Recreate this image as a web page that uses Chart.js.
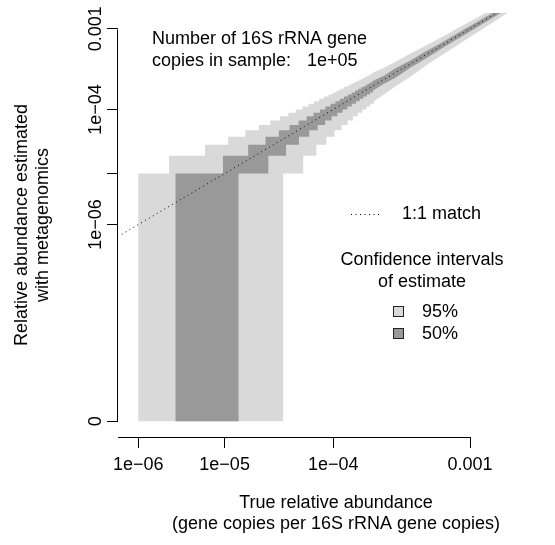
<!DOCTYPE html>
<html>
<head>
<meta charset="utf-8">
<script src="https://cdn.jsdelivr.net/npm/chart.js@4.4.0/dist/chart.umd.min.js"></script>
<style>
  html, body { margin: 0; padding: 0; background: #fff; }
  #wrap { width: 555px; height: 545px; }
</style>
</head>
<body>
<div id="wrap"><canvas id="chart" width="555" height="545"></canvas></div>
<script>
// tick marks and labels (true / estimated relative abundance)
const xTickValues = [1e-6, 1e-5, 1e-4, 1e-3];
const xTickLabels = ['1e\u221206', '1e\u221205', '1e\u221204', '0.001'];
const yTickValues = [0, 1e-6, 1e-5, 1e-4, 1e-3];
const yTickLabels = ['0', '1e\u221206', '', '1e\u221204', '0.001'];

// 1:1 match line
const matchLine = [6e-7, 1e-2];

// confidence band edges, step part: true abundance where the estimate steps, and the estimate from there on
const upper95X = [1e-6, 2.42e-6, 6.19e-6, 1.09e-5, 1.62e-5, 2.2e-5, 2.81e-5, 3.45e-5, 4.12e-5, 4.8e-5,
  5.49e-5, 6.2e-5, 6.92e-5, 7.65e-5, 8.4e-5, 9.15e-5, 9.9e-5, 1.067e-4, 1.144e-4, 1.222e-4,
  1.3e-4, 1.379e-4, 1.458e-4, 1.538e-4, 1.618e-4, 1.698e-4, 1.779e-4, 1.861e-4, 1.942e-4, 2.024e-4];
const upper95Y = [1e-5, 2e-5, 3e-5, 4e-5, 5e-5, 6e-5, 7e-5, 8e-5, 9e-5, 1e-4,
  1.1e-4, 1.2e-4, 1.3e-4, 1.4e-4, 1.5e-4, 1.6e-4, 1.7e-4, 1.8e-4, 1.9e-4, 2e-4,
  2.1e-4, 2.2e-4, 2.3e-4, 2.4e-4, 2.5e-4, 2.6e-4, 2.7e-4, 2.8e-4, 2.9e-4, 3e-4];
const lower95X = [1e-6, 3.69e-5, 5.57e-5, 7.22e-5, 8.77e-5, 1.024e-4, 1.167e-4, 1.306e-4, 1.442e-4,
  1.576e-4, 1.709e-4, 1.839e-4, 1.968e-4, 2.096e-4];
const lower95Y = [0, 1e-5, 2e-5, 3e-5, 4e-5, 5e-5, 6e-5, 7e-5, 8e-5,
  9e-5, 1e-4, 1.1e-4, 1.2e-4, 1.3e-4];
const upper50X = [1e-6, 2.88e-6, 9.61e-6, 1.727e-5, 2.535e-5, 3.37e-5, 4.22e-5, 5.08e-5, 5.96e-5, 6.84e-5,
  7.73e-5, 8.62e-5, 9.52e-5, 1.042e-4, 1.133e-4, 1.224e-4, 1.315e-4, 1.407e-4, 1.499e-4, 1.591e-4,
  1.683e-4, 1.776e-4, 1.868e-4, 1.961e-4, 2.054e-4];
const upper50Y = [0, 1e-5, 2e-5, 3e-5, 4e-5, 5e-5, 6e-5, 7e-5, 8e-5, 9e-5,
  1e-4, 1.1e-4, 1.2e-4, 1.3e-4, 1.4e-4, 1.5e-4, 1.6e-4, 1.7e-4, 1.8e-4, 1.9e-4,
  2e-4, 2.1e-4, 2.2e-4, 2.3e-4, 2.4e-4];
const lower50X = [1e-6, 1.386e-5, 2.693e-5, 3.92e-5, 5.11e-5, 6.27e-5, 7.42e-5, 8.56e-5, 9.68e-5, 1.08e-4,
  1.191e-4, 1.302e-4, 1.412e-4, 1.522e-4, 1.631e-4, 1.74e-4, 1.849e-4, 1.957e-4, 2.065e-4];
const lower50Y = [0, 1e-5, 2e-5, 3e-5, 4e-5, 5e-5, 6e-5, 7e-5, 8e-5, 9e-5,
  1e-4, 1.1e-4, 1.2e-4, 1.3e-4, 1.4e-4, 1.5e-4, 1.6e-4, 1.7e-4, 1.8e-4];

// band edges at higher abundance, where the steps get too small to see
const tailX = [2.5e-4, 3e-4, 4e-4, 5e-4, 6.5e-4, 8e-4, 1e-3, 1.3e-3, 1.7e-3, 2.2e-3, 3e-3];
const upper95Tail = [3.5e-4, 4.1e-4, 5.3e-4, 6.4e-4, 8.1e-4, 9.8e-4, 1.2e-3, 1.53e-3, 1.96e-3, 2.5e-3, 3.35e-3];
const lower95Tail = [1.6e-4, 2e-4, 2.8e-4, 3.7e-4, 5e-4, 6.3e-4, 8.1e-4, 1.08e-3, 1.45e-3, 1.91e-3, 2.67e-3];
const upper50Tail = [2.8e-4, 3.4e-4, 4.4e-4, 5.5e-4, 7e-4, 8.6e-4, 1.07e-3, 1.38e-3, 1.79e-3, 2.3e-3, 3.12e-3];
const lower50Tail = [2.2e-4, 2.6e-4, 3.6e-4, 4.5e-4, 6e-4, 7.4e-4, 9.3e-4, 1.22e-3, 1.61e-3, 2.1e-3, 2.88e-3];

// both axes use a x^0.1 scale
const tr = v => Math.pow(v, 0.1);

const FONT = "'Liberation Sans', Arial, Helvetica, sans-serif";
Chart.defaults.font.family = FONT;
Chart.defaults.color = '#000';

function edge(xs, ys, tx, ty) {
    const pts = [{ x: tr(xs[0]), y: tr(ys[0]) }];
    for (let i = 1; i < xs.length; i++) {
        pts.push({ x: tr(xs[i]), y: tr(ys[i - 1]) }, { x: tr(xs[i]), y: tr(ys[i]) });
    }
    tx.forEach((x, i) => pts.push({ x: tr(x), y: tr(ty[i]) }));
    return pts;
}

function band(upper, lower) {
    return upper.concat(lower.slice().reverse());
}

const band95 = band(edge(upper95X, upper95Y, tailX, upper95Tail), edge(lower95X, lower95Y, tailX, lower95Tail));
const band50 = band(edge(upper50X, upper50Y, tailX, upper50Tail), edge(lower50X, lower50Y, tailX, lower50Tail));

// base R style: axis lines only span the ticks, plus the text annotations and legend
const overlay = {
    id: 'overlay',
    afterDraw(chart) {
        const { ctx, scales: { x, y }, chartArea } = chart;
        ctx.save();
        ctx.strokeStyle = '#000';
        ctx.lineWidth = 1;
        ctx.beginPath();
        const yTop = Math.round(y.getPixelForValue(tr(yTickValues[yTickValues.length - 1]))) + 0.5;
        const yBot = Math.round(y.getPixelForValue(tr(yTickValues[0]))) + 0.5;
        ctx.moveTo(chartArea.left - 0.5, yTop);
        ctx.lineTo(chartArea.left - 0.5, yBot);
        const xEnd = Math.round(x.getPixelForValue(tr(xTickValues[xTickValues.length - 1]))) + 0.5;
        ctx.moveTo(chartArea.left, chartArea.bottom + 0.5);
        ctx.lineTo(xEnd, chartArea.bottom + 0.5);
        ctx.stroke();

        ctx.font = '18px ' + FONT;
        ctx.fillStyle = '#000';
        ctx.textBaseline = 'middle';
        ctx.textAlign = 'left';
        ctx.fillText('Number of 16S rRNA gene', 152, 39);
        ctx.fillText('copies in sample:', 152, 61);
        ctx.fillText('1e+05', 307, 61);

        // legend
        ctx.setLineDash([1, 3.5]);
        ctx.beginPath();
        ctx.moveTo(351, 214.5);
        ctx.lineTo(380, 214.5);
        ctx.stroke();
        ctx.setLineDash([]);
        ctx.fillText('1:1 match', 402, 214);
        ctx.textAlign = 'center';
        ctx.fillText('Confidence intervals', 422, 260);
        ctx.fillText('of estimate', 422, 282);
        ctx.textAlign = 'left';
        ctx.strokeStyle = '#222';
        ctx.fillStyle = '#d9d9d9';
        ctx.fillRect(393.5, 306.5, 10, 10);
        ctx.strokeRect(393.5, 306.5, 10, 10);
        ctx.fillStyle = '#999999';
        ctx.fillRect(393.5, 328.5, 10, 10);
        ctx.strokeRect(393.5, 328.5, 10, 10);
        ctx.fillStyle = '#000';
        ctx.fillText('95%', 422, 312);
        ctx.fillText('50%', 422, 334);
        ctx.restore();
    }
};

new Chart(document.getElementById('chart'), {
    type: 'line',
    data: {
        datasets: [
            {
                label: '1:1 match',
                data: matchLine.map(v => ({ x: tr(v), y: tr(v) })),
                borderColor: '#000',
                borderWidth: 1,
                borderDash: [1, 3.5],
                pointRadius: 0,
                fill: false
            },
            {
                label: '50%',
                data: band50,
                backgroundColor: '#999999',
                borderColor: 'rgba(0,0,0,0)',
                borderWidth: 0,
                pointRadius: 0,
                fill: 'shape'
            },
            {
                label: '95%',
                data: band95,
                backgroundColor: '#d9d9d9',
                borderColor: 'rgba(0,0,0,0)',
                borderWidth: 0,
                pointRadius: 0,
                fill: 'shape'
            }
        ]
    },
    options: {
        responsive: false,
        animation: false,
        events: [],
        layout: { padding: { top: 13, right: 1, bottom: 0, left: 0 } },
        plugins: {
            legend: { display: false },
            tooltip: { enabled: false }
        },
        elements: { line: { tension: 0 } },
        scales: {
            x: {
                type: 'linear',
                min: 0.23589,
                max: 0.56445,
                afterBuildTicks: (s) => { s.ticks = xTickValues.map(v => ({ value: tr(v) })); },
                afterFit: (s) => { s.height = 108; },
                border: { display: false },
                grid: { drawOnChartArea: false, drawTicks: true, tickLength: 11, color: '#000', lineWidth: 1 },
                ticks: {
                    autoSkip: false,
                    minRotation: 0,
                    maxRotation: 0,
                    padding: 6,
                    font: { size: 18 },
                    callback: (v, i) => xTickLabels[i]
                },
                title: {
                    display: true,
                    text: ['True relative abundance', '(gene copies per 16S rRNA gene copies)'],
                    font: { size: 18, lineHeight: 1.2 },
                    padding: { top: 0, bottom: 10 }
                }
            },
            y: {
                type: 'linear',
                min: -0.02005,
                max: 0.52124,
                afterBuildTicks: (s) => { s.ticks = yTickValues.map(v => ({ value: tr(v) })); },
                afterFit: (s) => { s.width = 118; },
                border: { display: false },
                grid: { drawOnChartArea: false, drawTicks: true, tickLength: 11, color: '#000', lineWidth: 1 },
                ticks: {
                    autoSkip: false,
                    minRotation: 90,
                    maxRotation: 90,
                    crossAlign: 'center',
                    padding: -14,
                    font: { size: 18 },
                    callback: (v, i) => yTickLabels[i]
                },
                title: {
                    display: true,
                    text: ['Relative abundance estimated', 'with metagenomics'],
                    font: { size: 18, lineHeight: 1.2 },
                    padding: { top: 11, bottom: 0 }
                }
            }
        }
    },
    plugins: [overlay]
});
</script>
</body>
</html>
